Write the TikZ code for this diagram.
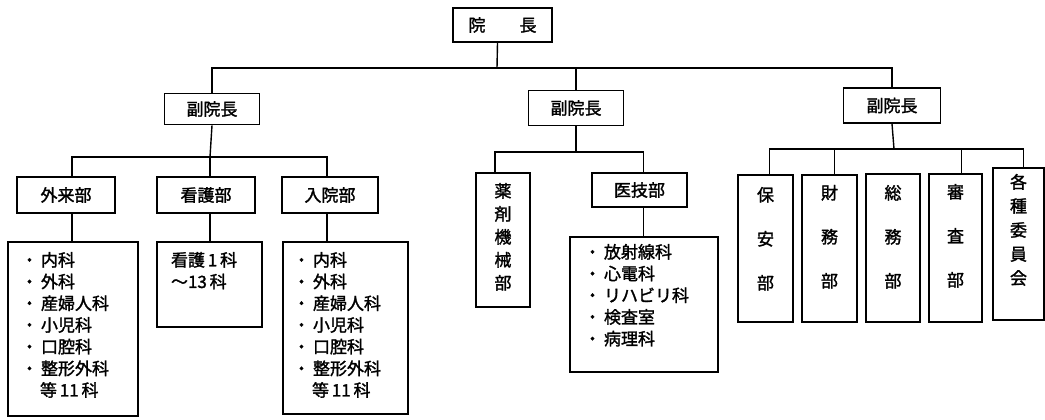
\documentclass[tikz,border=0pt]{standalone}
\usepackage{fontspec}
\newfontfamily\cjk{Noto Sans CJK JP}[FakeBold=1.6]
\newcommand\bxt[4]{\parbox[c][#1pt][t]{#2pt}{\vspace*{#3pt}#4}}
\newcommand\bu{・\hspace{3pt}}
\newcommand\ind{\hspace*{19pt}}
\begin{document}
\begin{tikzpicture}[x=1pt,y=-1pt,
  every node/.style={font=\cjk\fontsize{17}{21.7}\selectfont},
  box/.style={draw, line width=1.6pt, inner sep=0pt, align=center, fill=white},
  conn/.style={line width=1.4pt}]
\useasboundingbox (0,0) rectangle (1045,420);

% ---------- junction points ----------
\coordinate (t0) at (497,68);
\coordinate (j1) at (210,157);
\coordinate (j2) at (576,152);
\coordinate (j3) at (894,149);

% ---------- boxes ----------
\node[box, minimum width=99, minimum height=34] (head) at (502.5,25) {院\hspace{2em}長};

\node[box, minimum width=95, minimum height=31] (vp1) at (212,109) {副院長};
\node[box, minimum width=95, minimum height=35] (vp2) at (576,108) {副院長};
\node[box, minimum width=97, minimum height=35] (vp3) at (892,105.5) {副院長};

\node[box, minimum width=98, minimum height=36] (gairai) at (66,195) {外来部};
\node[box, minimum width=98, minimum height=36] (kango) at (206,195) {看護部};
\node[box, minimum width=96, minimum height=36] (nyuin) at (330,195) {入院部};

\node[box] (gl) at (73,329) {\bxt{174}{130}{10}{\raggedright\leftskip=13pt
\bu 内科\\\bu 外科\\\bu 産婦人科\\\bu 小児科\\\bu 口腔科\\\bu 整形外科\\\ind 等\,11\,科}};
\node[box] (kl) at (209.5,284.5) {\bxt{85}{105}{10}{\raggedright\leftskip=14pt
看護\,1\,科\\～13\,科}};
\node[box] (nl) at (345.5,328) {\bxt{172}{125}{10}{\raggedright\leftskip=10pt
\bu 内科\\\bu 外科\\\bu 産婦人科\\\bu 小児科\\\bu 口腔科\\\bu 整形外科\\\ind 等\,11\,科}};

\node[box, font=\cjk\fontsize{17}{23}\selectfont] (yaku) at (503,240) {\bxt{134}{54}{10}{\centering 薬\\剤\\機\\械\\部}};
\node[box, minimum width=95, minimum height=34] (igi) at (639.5,190) {医技部};
\node[box] (il) at (644,304.5) {\bxt{135}{148}{7}{\raggedright\leftskip=14pt
\bu 放射線科\\\bu 心電科\\\bu リハビリ科\\\bu 検査室\\\bu 病理科}};

\node[box, font=\cjk\fontsize{17}{44}\selectfont] (hoan) at (765.5,248.5) {\bxt{147}{55}{12}{\centering 保\\安\\部}};
\node[box, font=\cjk\fontsize{17}{44}\selectfont] (zaimu) at (829.5,248.5) {\bxt{147}{55}{10}{\centering 財\\務\\部}};
\node[box, font=\cjk\fontsize{17}{44}\selectfont] (somu) at (893,248) {\bxt{148}{54}{11}{\centering 総\\務\\部}};
\node[box, font=\cjk\fontsize{17}{44}\selectfont] (shinsa) at (955.5,248) {\bxt{148}{53}{10}{\centering 審\\査\\部}};
\node[box, font=\cjk\fontsize{17}{24}\selectfont] (iinkai) at (1018.5,244) {\bxt{152}{51}{6}{\centering 各\\種\\委\\員\\会}};

% ---------- connectors ----------
\draw[conn] ([xshift=-5pt]head.south) -- (t0);
\draw[conn] (vp1.north) |- (t0) -| (vp3.north);
\draw[conn] (vp2.north) -- (vp2.north |- t0);

\draw[conn] (vp1.south) -- (j1);
\draw[conn] ([xshift=6pt]gairai.north) |- (j1) -| ([xshift=-3pt]nyuin.north);
\draw[conn] (kango.north -| j1) -- (j1);
\draw[conn] ([xshift=6pt]gairai.south) -- ([xshift=6pt]gairai.south |- gl.north);
\draw[conn] (kango.south -| j1) -- (kl.north -| j1);
\draw[conn] ([xshift=-3pt]nyuin.south) -- ([xshift=-3pt]nyuin.south |- nl.north);

\draw[conn] (vp2.south) -- (j2);
\draw[conn] ([xshift=-8pt]yaku.north) |- (j2) -| ([xshift=4pt]igi.north);
\draw[conn] ([xshift=4pt]igi.south) -- ([xshift=4pt]igi.south |- il.north);

\draw[conn] (vp3.south) -- (j3);
\draw[conn] ([xshift=4pt]hoan.north) |- (j3) -| ([xshift=5pt]iinkai.north);
\draw[conn] ([xshift=5pt]zaimu.north) -- ([xshift=5pt]zaimu.north |- j3);
\draw[conn] ([xshift=6pt]shinsa.north) -- ([xshift=6pt]shinsa.north |- j3);
\end{tikzpicture}
\end{document}
